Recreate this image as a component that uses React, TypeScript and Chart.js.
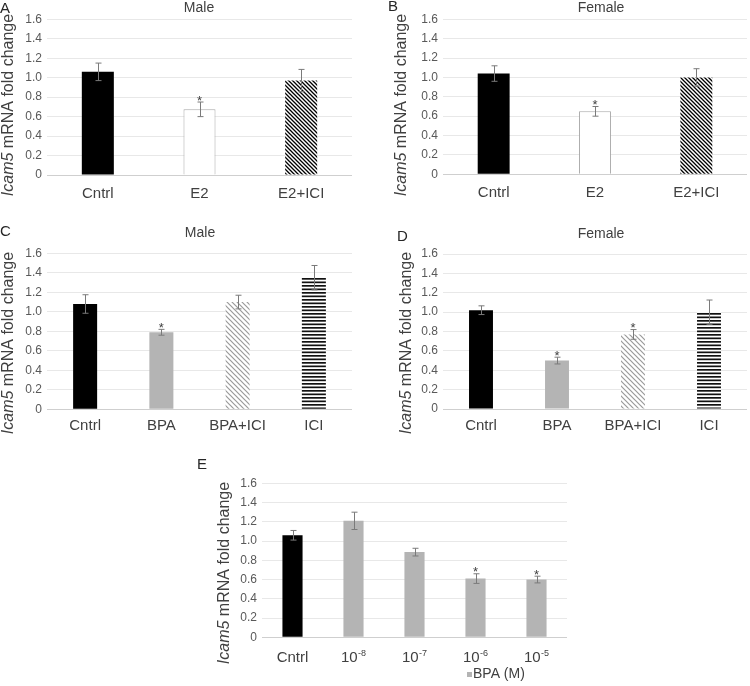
import React, { useEffect, useRef } from 'react';
import { Chart, registerables } from 'chart.js';

Chart.register(...registerables);

document.body.style.margin = '0';

const FONT = '"Liberation Sans", Arial, Helvetica, sans-serif';

// ---- axis ----
const Y_MIN = 0;
const Y_MAX = 1.6;
const Y_STEP = 0.2;
const Y_LABEL_ITALIC = 'Icam5';
const Y_LABEL_REST = ' mRNA fold change';

// ---- panel A (Male, E2) ----
const catsA = ['Cntrl', 'E2', 'E2+ICI'];
const valsA = [1.06, 0.675, 0.97];
const errA = [0.09, 0.075, 0.115];
const sigA = [false, true, false];
const styleA = ['solid', 'open', 'hatchBlack'];

// ---- panel B (Female, E2) ----
const catsB = ['Cntrl', 'E2', 'E2+ICI'];
const valsB = [1.04, 0.65, 1.0];
const errB = [0.08, 0.05, 0.09];
const sigB = [false, true, false];
const styleB = ['solid', 'open', 'hatchBlack'];

// ---- panel C (Male, BPA) ----
const catsC = ['Cntrl', 'BPA', 'BPA+ICI', 'ICI'];
const valsC = [1.08, 0.79, 1.1, 1.35];
const errC = [0.095, 0.03, 0.07, 0.125];
const sigC = [false, true, false, false];
const styleC = ['solid', 'gray', 'hatchGray', 'hstripe'];

// ---- panel D (Female, BPA) ----
const catsD = ['Cntrl', 'BPA', 'BPA+ICI', 'ICI'];
const valsD = [1.02, 0.5, 0.77, 1.0];
const errD = [0.045, 0.035, 0.05, 0.125];
const sigD = [false, true, true, false];
const styleD = ['solid', 'gray', 'hatchGray', 'hstripe'];

// ---- panel E (BPA dose) ----
const catsE = ['Cntrl', '10^-8', '10^-7', '10^-6', '10^-5'];
const valsE = [1.06, 1.21, 0.885, 0.61, 0.6];
const errE = [0.05, 0.09, 0.04, 0.05, 0.035];
const sigE = [false, false, false, true, true];
const styleE = ['solid', 'gray', 'gray', 'gray', 'gray'];
const legendE = 'BPA (M)';

type Box = { x: number; y: number; w: number; h: number };
type Spec = {
  box: Box;
  plot: { l: number; r: number; t: number; b: number };
  cats: string[];
  vals: number[];
  errs: number[];
  sig: boolean[];
  styles: string[];
  barPct: number;
  xPad: number;
  supLabels?: boolean;
  supLabelY?: number;
  title?: string;
  titlePos?: [number, number];
  letter: string;
  letterPos: [number, number];
  ylabelPos: [number, number];
  legend?: string;
  legendPos?: [number, number];
};

function makePattern(kind: string): CanvasPattern | string {
  const c = document.createElement('canvas');
  const g = c.getContext('2d')!;
  if (kind === 'hatchBlack' || kind === 'hatchGray') {
    const s = kind === 'hatchBlack' ? 4 : 5;
    c.width = s;
    c.height = s;
    g.fillStyle = '#ffffff';
    g.fillRect(0, 0, s, s);
    g.strokeStyle = kind === 'hatchBlack' ? '#000000' : '#9a9a9a';
    g.lineWidth = kind === 'hatchBlack' ? 1.3 : 1.2;
    g.beginPath();
    g.moveTo(-1, -1);
    g.lineTo(s + 1, s + 1);
    g.moveTo(-1, s - 1);
    g.lineTo(1, s + 1);
    g.moveTo(s - 1, -1);
    g.lineTo(s + 1, 1);
    g.stroke();
    return g.createPattern(c, 'repeat')!;
  }
  if (kind === 'hstripe') {
    c.width = 4;
    c.height = 7;
    g.fillStyle = '#ffffff';
    g.fillRect(0, 0, 4, 7);
    g.fillStyle = '#111111';
    g.fillRect(0, 0, 4, 1.7);
    g.fillRect(0, 3.5, 4, 1.7);
    return g.createPattern(c, 'repeat')!;
  }
  if (kind === 'solid') return '#000000';
  if (kind === 'open') return '#ffffff';
  return '#b4b4b4';
}

function drawYLabel(ctx: CanvasRenderingContext2D, cx: number, cy: number) {
  ctx.save();
  ctx.translate(cx, cy);
  ctx.rotate(-Math.PI / 2);
  const f1 = `italic 16px ${FONT}`;
  const f2 = `16px ${FONT}`;
  ctx.font = f1;
  const w1 = ctx.measureText(Y_LABEL_ITALIC).width;
  ctx.font = f2;
  const w2 = ctx.measureText(Y_LABEL_REST).width;
  const x0 = -(w1 + w2) / 2;
  ctx.fillStyle = '#404040';
  ctx.textBaseline = 'middle';
  ctx.textAlign = 'left';
  ctx.font = f1;
  ctx.fillText(Y_LABEL_ITALIC, x0, 0);
  ctx.font = f2;
  ctx.fillText(Y_LABEL_REST, x0 + w1, 0);
  ctx.restore();
}

function drawSupLabel(ctx: CanvasRenderingContext2D, label: string, cx: number, cy: number) {
  const parts = label.split('^');
  const base = parts[0];
  const sup = parts[1] || '';
  const fb = `15px ${FONT}`;
  const fs = `9px ${FONT}`;
  ctx.font = fb;
  const wb = ctx.measureText(base).width;
  ctx.font = fs;
  const ws = sup ? ctx.measureText(sup).width + 0.5 : 0;
  const x0 = cx - (wb + ws) / 2;
  ctx.fillStyle = '#404040';
  ctx.textAlign = 'left';
  ctx.textBaseline = 'alphabetic';
  ctx.font = fb;
  ctx.fillText(base, x0, cy + 5.5);
  if (sup) {
    ctx.font = fs;
    ctx.fillText(sup, x0 + wb + 0.5, cy - 0.5);
  }
}

function makeDecor(spec: Spec) {
  const ox = spec.box.x;
  const oy = spec.box.y;
  return {
    id: 'decor',
    afterDatasetsDraw(chart: any) {
      const ctx: CanvasRenderingContext2D = chart.ctx;
      const meta = chart.getDatasetMeta(0);
      const ys = chart.scales.y;
      spec.vals.forEach((v, i) => {
        const bar = meta.data[i];
        const x = Math.round(bar.x) + 0.5;
        const top = ys.getPixelForValue(v + spec.errs[i]);
        const bot = ys.getPixelForValue(v - spec.errs[i]);
        ctx.save();
        ctx.strokeStyle = '#7a7a7a';
        ctx.lineWidth = 1;
        ctx.beginPath();
        ctx.moveTo(x, top);
        ctx.lineTo(x, bot);
        ctx.moveTo(x - 3, top);
        ctx.lineTo(x + 3, top);
        ctx.moveTo(x - 3, bot);
        ctx.lineTo(x + 3, bot);
        ctx.stroke();
        if (spec.sig[i]) {
          ctx.fillStyle = '#404040';
          ctx.font = `13px ${FONT}`;
          ctx.textAlign = 'center';
          ctx.textBaseline = 'alphabetic';
          ctx.fillText('*', bar.x, top + 2.5);
        }
        ctx.restore();
      });
    },
    afterDraw(chart: any) {
      const ctx: CanvasRenderingContext2D = chart.ctx;
      ctx.save();
      if (spec.supLabels && spec.supLabelY !== undefined) {
        const xs = chart.scales.x;
        spec.cats.forEach((lab, i) => {
          drawSupLabel(ctx, lab, xs.getPixelForValue(i), spec.supLabelY! - oy);
        });
      }
      if (spec.title && spec.titlePos) {
        ctx.fillStyle = '#404040';
        ctx.font = `14px ${FONT}`;
        ctx.textAlign = 'center';
        ctx.textBaseline = 'middle';
        ctx.fillText(spec.title, spec.titlePos[0] - ox, spec.titlePos[1] - oy);
      }
      ctx.fillStyle = '#262626';
      ctx.font = `15px ${FONT}`;
      ctx.textAlign = 'left';
      ctx.textBaseline = 'alphabetic';
      ctx.fillText(spec.letter, spec.letterPos[0] - ox, spec.letterPos[1] - oy);
      drawYLabel(ctx, spec.ylabelPos[0] - ox, spec.ylabelPos[1] - oy);
      if (spec.legend && spec.legendPos) {
        const lx = spec.legendPos[0] - ox;
        const ly = spec.legendPos[1] - oy;
        ctx.fillStyle = '#b4b4b4';
        ctx.fillRect(lx, ly - 2.5, 5, 5);
        ctx.fillStyle = '#404040';
        ctx.font = `14px ${FONT}`;
        ctx.textAlign = 'left';
        ctx.textBaseline = 'middle';
        ctx.fillText(spec.legend, lx + 6, ly);
      }
      ctx.restore();
    },
  };
}

function buildConfig(spec: Spec): any {
  const W = spec.box.w;
  const H = spec.box.h;
  const fills = spec.styles.map((s) => makePattern(s));
  const borders = spec.styles.map((s) => (s === 'open' ? '#a8a8a8' : 'rgba(0,0,0,0)'));
  const bw = spec.styles.map((s) => (s === 'open' ? 1 : 0));
  return {
    type: 'bar',
    data: {
      labels: spec.cats,
      datasets: [
        {
          data: spec.vals,
          backgroundColor: fills,
          borderColor: borders,
          borderWidth: bw,
          barPercentage: spec.barPct,
          categoryPercentage: 1,
        },
      ],
    },
    options: {
      responsive: false,
      animation: false,
      devicePixelRatio: 1,
      layout: { padding: { left: 0, right: W - spec.plot.r, top: spec.plot.t, bottom: 0 } },
      plugins: {
        legend: { display: false },
        tooltip: { enabled: false },
        title: { display: false },
      },
      scales: {
        x: {
          grid: { display: false, drawTicks: false },
          border: { display: false },
          ticks: {
            display: !spec.supLabels,
            color: '#404040',
            font: { family: FONT, size: 15 },
            padding: spec.xPad,
            maxRotation: 0,
            autoSkip: false,
          },
          afterFit: (s: any) => {
            s.height = H - spec.plot.b;
          },
        },
        y: {
          min: Y_MIN,
          max: Y_MAX,
          ticks: {
            stepSize: Y_STEP,
            color: '#595959',
            font: { family: FONT, size: 12 },
            padding: 5,
            callback: (v: any) => (Number(v) === 0 ? '0' : Number(v).toFixed(1)),
          },
          grid: {
            color: (c: any) => (c.tick && Math.abs(c.tick.value) < 1e-9 ? '#cfcfcf' : '#e8e8e8'),
            drawTicks: false,
            lineWidth: 1,
          },
          border: { display: false },
          afterFit: (s: any) => {
            s.width = spec.plot.l;
          },
        },
      },
    },
    plugins: [makeDecor(spec)],
  };
}

const specs: Spec[] = [
  {
    box: { x: 0, y: 0, w: 375, h: 210 },
    plot: { l: 47, r: 352, t: 19.3, b: 175 },
    cats: catsA, vals: valsA, errs: errA, sig: sigA, styles: styleA,
    barPct: 0.315, xPad: 10,
    title: 'Male', titlePos: [199, 8],
    letter: 'A', letterPos: [0, 13],
    ylabelPos: [9, 105],
  },
  {
    box: { x: 375, y: 0, w: 375, h: 210 },
    plot: { l: 68, r: 372, t: 19.3, b: 174.3 },
    cats: catsB, vals: valsB, errs: errB, sig: sigB, styles: styleB,
    barPct: 0.315, xPad: 10,
    title: 'Female', titlePos: [601, 8],
    letter: 'B', letterPos: [388, 11],
    ylabelPos: [401.5, 105],
  },
  {
    box: { x: 0, y: 215, w: 375, h: 225 },
    plot: { l: 47, r: 352, t: 38.3, b: 194.3 },
    cats: catsC, vals: valsC, errs: errC, sig: sigC, styles: styleC,
    barPct: 0.315, xPad: 8,
    title: 'Male', titlePos: [200, 233],
    letter: 'C', letterPos: [0, 236],
    ylabelPos: [8.5, 343],
  },
  {
    box: { x: 375, y: 215, w: 375, h: 225 },
    plot: { l: 68, r: 372, t: 39, b: 194 },
    cats: catsD, vals: valsD, errs: errD, sig: sigD, styles: styleD,
    barPct: 0.315, xPad: 8,
    title: 'Female', titlePos: [601, 234],
    letter: 'D', letterPos: [397, 241],
    ylabelPos: [407, 343],
  },
  {
    box: { x: 190, y: 440, w: 390, h: 246 },
    plot: { l: 72, r: 377, t: 43.3, b: 197.3 },
    cats: catsE, vals: valsE, errs: errE, sig: sigE, styles: styleE,
    barPct: 0.33, xPad: 9, supLabels: true, supLabelY: 656,
    letter: 'E', letterPos: [197, 469],
    ylabelPos: [225, 573],
    legend: legendE, legendPos: [467, 674.5],
  },
];

function Panel({ spec }: { spec: Spec }) {
  const ref = useRef<HTMLCanvasElement>(null);
  useEffect(() => {
    const chart = new Chart(ref.current as HTMLCanvasElement, buildConfig(spec));
    return () => chart.destroy();
  }, [spec]);
  return (
    <canvas
      ref={ref}
      width={spec.box.w}
      height={spec.box.h}
      style={{
        position: 'absolute',
        left: spec.box.x,
        top: spec.box.y,
        width: spec.box.w,
        height: spec.box.h,
        display: 'block',
      }}
    />
  );
}

export default function App() {
  return (
    <div style={{ position: 'relative', width: 750, height: 686, background: '#ffffff', overflow: 'hidden' }}>
      {specs.map((s, i) => (
        <Panel key={i} spec={s} />
      ))}
    </div>
  );
}
